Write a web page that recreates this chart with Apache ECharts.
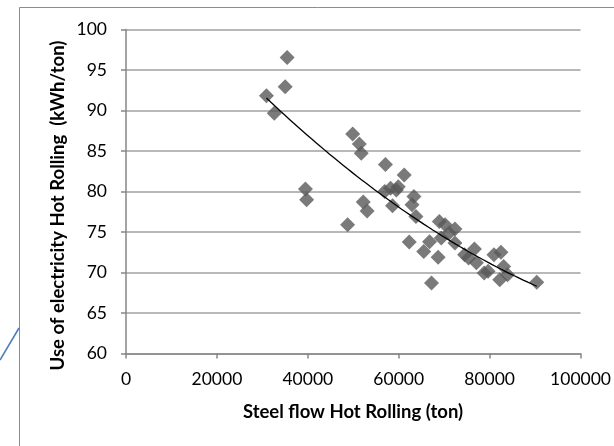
<!DOCTYPE html>
<html><head><meta charset="utf-8">
<script src="https://cdn.jsdelivr.net/npm/echarts@6/dist/echarts.min.js"></script>
<style>html,body{margin:0;padding:0;background:#fff}#c{width:614px;height:446px}</style>
</head><body><div id="c"></div>
<script>
const steelFlow = [35450,35020,30900,32620,49870,51330,51760,57080,61200,39480,39740,48760,52190,53050,56910,58200,59480,59900,58630,63350,62920,63780,62320,65500,66780,67210,68670,68930,70210,69360,72360,71070,72360,74500,75360,76650,77080,78800,79660,80940,82490,82230,83080,83940,90370];
const electricity = [96.55,92.94,91.83,89.65,87.1,85.87,84.72,83.33,82.05,80.3,78.97,75.9,78.69,77.6,80.0,80.4,80.2,80.6,78.23,79.38,78.36,76.92,73.76,72.6,73.8,68.7,71.87,76.3,75.9,74.25,75.36,74.87,73.63,72.2,71.8,72.9,71.2,69.94,70.14,72.2,72.5,69.1,70.75,69.73,68.8];
const xTitle = 'Steel flow Hot Rolling (ton)';
const yTitle = 'Use of electricity Hot Rolling  (kWh/ton)';

const points = steelFlow.map((x, i) => [x, electricity[i]]);

// Second-order polynomial trendline (least squares), like a spreadsheet trendline
function polyFit2(pts) {
  const s = [0, 0, 0, 0, 0], t = [0, 0, 0];
  pts.forEach(([x0, y]) => { const x = x0 / 1e4; let p = 1; for (let k = 0; k < 5; k++) { s[k] += p; if (k < 3) t[k] += p * y; p *= x; } });
  const M = [[s[0], s[1], s[2], t[0]], [s[1], s[2], s[3], t[1]], [s[2], s[3], s[4], t[2]]];
  for (let i = 0; i < 3; i++) {
    for (let j = i + 1; j < 3; j++) { const f = M[j][i] / M[i][i]; for (let k = i; k < 4; k++) M[j][k] -= f * M[i][k]; }
  }
  const c = [0, 0, 0];
  for (let i = 2; i >= 0; i--) { let v = M[i][3]; for (let k = i + 1; k < 3; k++) v -= M[i][k] * c[k]; c[i] = v / M[i][i]; }
  return x0 => { const x = x0 / 1e4; return c[0] + c[1] * x + c[2] * x * x; };
}
const f = polyFit2(points);
const xMin = Math.min(...steelFlow), xMax = Math.max(...steelFlow);
const trend = [];
for (let k = 0; k <= 60; k++) { const x = xMin + (xMax - xMin) * k / 60; trend.push([x, f(x)]); }

const FONT = 'Lato';
const chart = echarts.init(document.getElementById('c'), null, { renderer: 'canvas' });
chart.setOption({
  animation: false,
  backgroundColor: '#fff',
  grid: { left: 126, right: 31, top: 29.5, bottom: 92.5, containLabel: false },
  xAxis: {
    type: 'value', min: 0, max: 100000, interval: 20000,
    axisLine: { show: true, lineStyle: { color: '#868686', width: 1.5 } },
    axisTick: { show: true, length: 5, lineStyle: { color: '#868686', width: 1.5 } },
    axisLabel: { color: '#000', fontFamily: FONT, fontSize: 17.5, margin: 17, formatter: v => String(v) },
    splitLine: { show: false }
  },
  yAxis: {
    type: 'value', min: 60, max: 100, interval: 5,
    axisLine: { show: true, lineStyle: { color: '#868686', width: 1.5 } },
    axisTick: { show: true, length: 5, lineStyle: { color: '#868686', width: 1.5 } },
    axisLabel: { color: '#000', fontFamily: FONT, fontSize: 17.5, margin: 19, formatter: v => String(v) },
    splitLine: { show: true, lineStyle: { color: '#a0a0a0', width: 1.5 } }
  },
  series: [
    { type: 'scatter', data: points, symbol: 'diamond', symbolSize: 15,
      itemStyle: { color: '#595959' }, z: 2 },
    { type: 'line', data: trend, showSymbol: false, smooth: false,
      lineStyle: { color: '#000', width: 1.3 }, z: 3 }
  ],
  graphic: [
    { type: 'rect', shape: { x: 19.5, y: 7.5, width: 700, height: 600 },
      style: { fill: 'none', stroke: '#8c8c8c', lineWidth: 1 }, z: -1 },
    { type: 'line', shape: { x1: 0, y1: 360, x2: 19, y2: 328 },
      style: { stroke: '#4a7ebb', lineWidth: 1.5 } },
    { type: 'text', x: 353, y: 412,
      style: { text: xTitle, fontFamily: FONT, fontWeight: 'bold', fontSize: 18.5, fill: '#000', align: 'center', verticalAlign: 'middle' } },
    { type: 'text', x: 58.5, y: 205.5, rotation: Math.PI / 2,
      style: { text: yTitle, fontFamily: FONT, fontWeight: 'bold', fontSize: 18.5, fill: '#000', align: 'center', verticalAlign: 'middle' } }
  ]
});
</script></body></html>
